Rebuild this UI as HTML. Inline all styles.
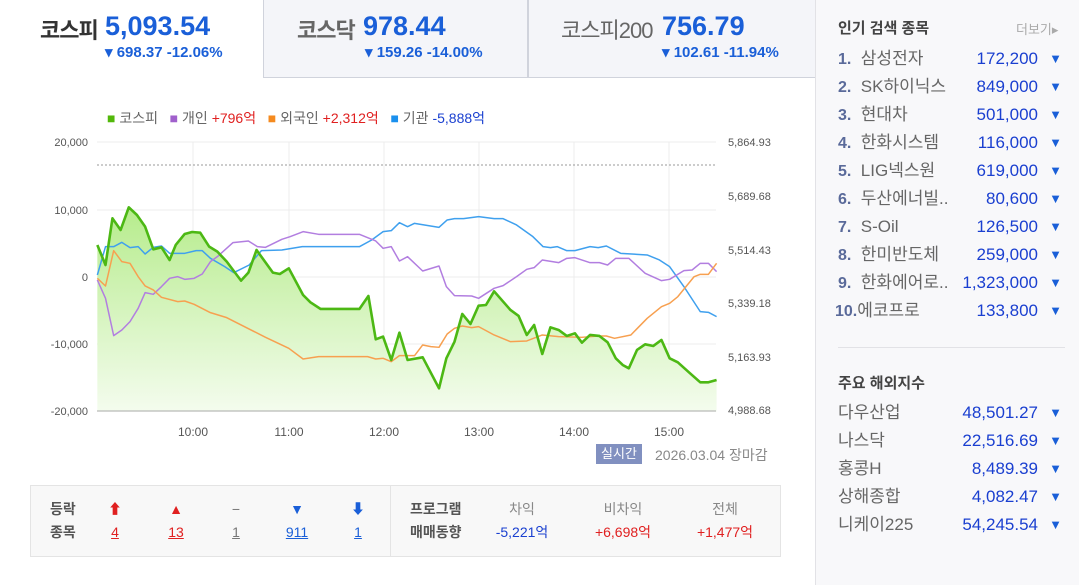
<!DOCTYPE html>
<html><head><meta charset="utf-8"><style>
*{margin:0;padding:0;box-sizing:border-box}
body{width:1079px;height:585px;background:#fff;font-family:"Liberation Sans","Noto Sans CJK KR",sans-serif;position:relative;overflow:hidden}
.a{position:absolute;white-space:nowrap}
.tab{position:absolute;top:0;height:78px}
.nm{font-size:22px;color:#555;letter-spacing:-1px}
.val{font-size:27px;font-weight:bold;color:#1a5fd8}
.chg{font-size:15px;font-weight:bold;color:#1a5fd8}
.rp{position:absolute;left:815px;top:0;width:264px;height:585px;background:#f8f8fa;border-left:1px solid #e2e2e6}
.row{position:absolute;left:22px;width:230px;height:28px;line-height:28px;font-size:17px;color:#666}
.row .n{color:#5a6a9a;font-weight:bold;font-size:16px}
.row .p{position:absolute;right:30px;top:0;color:#1a3fd0;font-size:17px}
.row .t{position:absolute;right:6px;top:0;color:#1a5fd8;font-size:13px}
.lg{font-size:14px;color:#666}
.c{position:absolute;font-size:14px;line-height:23px;text-align:center;white-space:nowrap}
</style></head><body>

<div class="tab" style="left:0;width:263px;background:#fff"></div>
<div class="a nm" style="left:40px;top:13px;color:#333;font-weight:bold">코스피</div>
<div class="a val" style="left:105px;top:11px">5,093.54</div>
<div class="a chg" style="left:105px;top:43px">▾ 698.37 -12.06%</div>

<div class="tab" style="left:263px;width:265px;background:#f4f5f9;border:1px solid #d0d3dc;border-top:none"></div>
<div class="a nm" style="left:297px;top:13px;font-weight:bold;color:#666">코스닥</div>
<div class="a val" style="left:363px;top:11px">978.44</div>
<div class="a chg" style="left:365px;top:43px">▾ 159.26 -14.00%</div>

<div class="tab" style="left:528px;width:287px;background:#f4f5f9;border-left:1px solid #d0d3dc;border-bottom:1px solid #d0d3dc"></div>
<div class="a nm" style="left:561px;top:13px;color:#666">코스피200</div>
<div class="a val" style="left:662px;top:11px">756.79</div>
<div class="a chg" style="left:662px;top:43px">▾ 102.61 -11.94%</div>

<div class="a lg" style="left:107px;top:108px"><span style="color:#52b80a">■</span> 코스피 &nbsp; <span style="color:#a060cc">■</span> 개인 <span style="color:#e02020">+796억</span> &nbsp; <span style="color:#f58a1f">■</span> 외국인 <span style="color:#e02020">+2,312억</span> &nbsp; <span style="color:#1a90ee">■</span> 기관 <span style="color:#1a40d0">-5,888억</span></div>

<svg class="a" style="left:0;top:0" width="815" height="450">
<defs><linearGradient id="g" x1="0" y1="0" x2="0" y2="1"><stop offset="0" stop-color="#b6ec8c"/><stop offset="1" stop-color="#f4fcee"/></linearGradient></defs>
<g stroke="#ececec" stroke-width="1">
<line x1="97" y1="142" x2="716" y2="142"/><line x1="97" y1="210" x2="716" y2="210"/><line x1="97" y1="277" x2="716" y2="277"/><line x1="97" y1="344" x2="716" y2="344"/>
<line x1="193" y1="142" x2="193" y2="411"/><line x1="289" y1="142" x2="289" y2="411"/><line x1="384" y1="142" x2="384" y2="411"/><line x1="479" y1="142" x2="479" y2="411"/><line x1="574" y1="142" x2="574" y2="411"/><line x1="669" y1="142" x2="669" y2="411"/>
</g>
<line x1="97" y1="165" x2="716" y2="165" stroke="#999" stroke-dasharray="2,2"/>
<g transform="translate(90,130) scale(0.4082,0.3333)" fill="none" stroke-linejoin="round">
<polygon fill="url(#g)" stroke="none" points="18,845 18,345 38,405 55,265 75,300 95,232 115,255 135,290 155,358 175,352 195,390 210,345 232,312 250,306 270,308 292,350 312,365 335,395 370,452 388,428 408,360 448,428 465,432 487,415 522,495 540,517 565,537 660,537 682,498 700,628 718,620 738,690 758,608 778,690 815,682 855,775 873,685 893,635 912,552 932,582 952,527 970,525 990,484 1030,540 1050,558 1070,615 1088,585 1108,672 1128,592 1148,600 1168,618 1188,610 1205,638 1225,615 1248,618 1268,637 1288,685 1305,705 1320,715 1340,660 1360,643 1380,648 1400,630 1420,685 1440,697 1470,730 1495,757 1515,757 1535,750 1535,845"/>
<polyline stroke="#3fa0ee" stroke-width="1.5" vector-effect="non-scaling-stroke" points="18,435 38,350 58,350 78,337 98,353 118,350 135,372 155,352 175,348 195,370 232,370 260,362 275,362 295,385 330,410 352,428 390,405 420,362 470,360 520,350 660,350 690,330 718,305 738,302 758,278 778,290 795,280 855,292 875,270 893,266 915,266 952,260 990,266 1012,266 1045,285 1085,320 1110,350 1128,353 1145,350 1168,362 1188,362 1225,350 1245,353 1265,348 1300,370 1365,375 1395,390 1420,410 1455,470 1495,545 1515,547 1535,560"/>
<polyline stroke="#b27ee0" stroke-width="1.5" vector-effect="non-scaling-stroke" points="18,450 38,505 58,617 78,600 98,575 118,535 135,488 155,493 175,470 195,445 215,440 232,448 255,445 275,432 295,395 312,380 350,338 388,333 410,350 430,352 450,340 470,328 490,320 522,305 560,313 660,313 700,333 718,355 738,350 758,393 778,380 815,423 855,408 873,470 893,497 935,498 952,505 990,475 1012,467 1045,440 1070,418 1088,413 1108,390 1148,398 1168,385 1188,383 1225,398 1248,398 1268,405 1288,385 1320,385 1360,430 1400,452 1420,448 1455,422 1475,420 1495,400 1515,400 1535,425"/>
<polyline stroke="#f7a050" stroke-width="1.5" vector-effect="non-scaling-stroke" points="18,445 38,468 58,362 78,395 98,400 118,440 135,468 155,480 175,502 215,515 232,513 255,523 295,548 335,563 430,622 487,655 522,687 560,680 680,680 700,687 718,685 738,695 758,677 795,677 815,645 835,650 855,652 875,612 893,595 912,588 935,593 952,590 990,615 1030,635 1070,633 1108,615 1148,620 1205,622 1245,618 1265,618 1285,625 1325,615 1365,565 1400,530 1420,520 1440,500 1480,440 1495,433 1515,433 1535,400"/>
<polyline stroke="#4cb814" stroke-width="2.6" vector-effect="non-scaling-stroke" points="18,345 38,405 55,265 75,300 95,232 115,255 135,290 155,358 175,352 195,390 210,345 232,312 250,306 270,308 292,350 312,365 335,395 370,452 388,428 408,360 448,428 465,432 487,415 522,495 540,517 565,537 660,537 682,498 700,628 718,620 738,690 758,608 778,690 815,682 855,775 873,685 893,635 912,552 932,582 952,527 970,525 990,484 1030,540 1050,558 1070,615 1088,585 1108,672 1128,592 1148,600 1168,618 1188,610 1205,638 1225,615 1248,618 1268,637 1288,685 1305,705 1320,715 1340,660 1360,643 1380,648 1400,630 1420,685 1440,697 1470,730 1495,757 1515,757 1535,750"/>
</g>
<line x1="97" y1="411" x2="716" y2="411" stroke="#aaa"/>
<g font-size="11" fill="#555" font-family="Liberation Sans,sans-serif">
<text x="88" y="146" text-anchor="end">20,000</text><text x="88" y="214" text-anchor="end">10,000</text><text x="88" y="281" text-anchor="end">0</text><text x="88" y="348" text-anchor="end">-10,000</text><text x="88" y="415" text-anchor="end">-20,000</text>
<text x="728" y="146">5,864.93</text><text x="728" y="200">5,689.68</text><text x="728" y="254">5,514.43</text><text x="728" y="307">5,339.18</text><text x="728" y="361">5,163.93</text><text x="728" y="414">4,988.68</text>
<text x="193" y="436" text-anchor="middle" font-size="12">10:00</text><text x="289" y="436" text-anchor="middle" font-size="12">11:00</text><text x="384" y="436" text-anchor="middle" font-size="12">12:00</text><text x="479" y="436" text-anchor="middle" font-size="12">13:00</text><text x="574" y="436" text-anchor="middle" font-size="12">14:00</text><text x="669" y="436" text-anchor="middle" font-size="12">15:00</text>
</g>
</svg>
<div class="a" style="left:596px;top:444px;width:46px;height:20px;background:#8190c0;color:#fff;font-size:13px;text-align:center;line-height:20px">실시간</div>
<div class="a" style="left:655px;top:445px;font-size:14px;color:#888">2026.03.04 장마감</div>

<div class="a" style="left:30px;top:485px;width:751px;height:72px;background:#f8f8f8;border:1px solid #e4e4e4"></div>
<div class="a" style="left:390px;top:485px;width:1px;height:72px;background:#e4e4e4"></div>
<div class="c" style="left:50px;top:498px;color:#555;font-weight:bold">등락<br>종목</div>
<div class="c" style="left:105px;top:498px;width:20px;color:#e02020">⬆<br><u>4</u></div>
<div class="c" style="left:164px;top:498px;width:24px;color:#e02020">▲<br><u>13</u></div>
<div class="c" style="left:226px;top:498px;width:20px;color:#777">−<br><u>1</u></div>
<div class="c" style="left:282px;top:498px;width:30px;color:#1a5fd8">▼<br><u>911</u></div>
<div class="c" style="left:348px;top:498px;width:20px;color:#1a5fd8">⬇<br><u>1</u></div>
<div class="c" style="left:410px;top:498px;color:#555;font-weight:bold">프로그램<br>매매동향</div>
<div class="c" style="left:477px;top:498px;width:90px;color:#888">차익<br><span style="color:#1a40d0">-5,221억</span></div>
<div class="c" style="left:573px;top:498px;width:100px;color:#888">비차익<br><span style="color:#e02020">+6,698억</span></div>
<div class="c" style="left:675px;top:498px;width:100px;color:#888">전체<br><span style="color:#e02020">+1,477억</span></div>

<div class="rp">
<div class="a" style="left:22px;top:17px;font-size:15px;font-weight:bold;color:#444">인기 검색 종목</div>
<div class="a" style="left:200px;top:19px;font-size:13px;color:#aaa">더보기▸</div>
<div class="row" style="top:45px"><span class="n">1.</span>&nbsp; 삼성전자<span class="p">172,200</span><span class="t">▼</span></div>
<div class="row" style="top:73px"><span class="n">2.</span>&nbsp; SK하이닉스<span class="p">849,000</span><span class="t">▼</span></div>
<div class="row" style="top:101px"><span class="n">3.</span>&nbsp; 현대차<span class="p">501,000</span><span class="t">▼</span></div>
<div class="row" style="top:129px"><span class="n">4.</span>&nbsp; 한화시스템<span class="p">116,000</span><span class="t">▼</span></div>
<div class="row" style="top:157px"><span class="n">5.</span>&nbsp; LIG넥스원<span class="p">619,000</span><span class="t">▼</span></div>
<div class="row" style="top:185px"><span class="n">6.</span>&nbsp; 두산에너빌..<span class="p">80,600</span><span class="t">▼</span></div>
<div class="row" style="top:213px"><span class="n">7.</span>&nbsp; S-Oil<span class="p">126,500</span><span class="t">▼</span></div>
<div class="row" style="top:241px"><span class="n">8.</span>&nbsp; 한미반도체<span class="p">259,000</span><span class="t">▼</span></div>
<div class="row" style="top:269px"><span class="n">9.</span>&nbsp; 한화에어로..<span class="p">1,323,000</span><span class="t">▼</span></div>
<div class="row" style="top:297px;left:19px;width:233px"><span class="n">10.</span>에코프로<span class="p">133,800</span><span class="t">▼</span></div>
<div class="a" style="left:22px;top:347px;width:227px;height:1px;background:#e2e2e6"></div>
<div class="a" style="left:22px;top:372px;font-size:15px;font-weight:bold;color:#444">주요 해외지수</div>
<div class="row" style="top:399px">다우산업<span class="p">48,501.27</span><span class="t">▼</span></div>
<div class="row" style="top:427px">나스닥<span class="p">22,516.69</span><span class="t">▼</span></div>
<div class="row" style="top:455px">홍콩H<span class="p">8,489.39</span><span class="t">▼</span></div>
<div class="row" style="top:483px">상해종합<span class="p">4,082.47</span><span class="t">▼</span></div>
<div class="row" style="top:511px">니케이225<span class="p">54,245.54</span><span class="t">▼</span></div>
</div>
</body></html>
